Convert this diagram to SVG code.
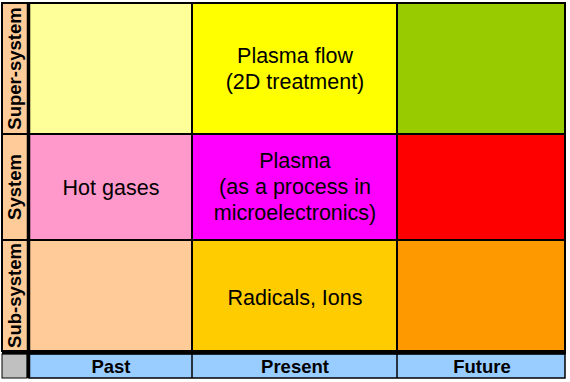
<svg xmlns="http://www.w3.org/2000/svg" width="570" height="382" viewBox="0 0 570 382">
<style>
.c{stroke:#000;stroke-width:2}
.t{font-family:"Liberation Sans",Arial,sans-serif;font-size:21.5px;fill:#000;text-anchor:middle}
.h{font-family:"Liberation Sans",Arial,sans-serif;font-size:18.5px;font-weight:bold;fill:#000;text-anchor:middle}
</style>
<rect width="570" height="382" fill="#fff"/>
<g id="row-labels">
<rect x="2" y="3" width="26" height="348" fill="#FFCC99" stroke="#000" stroke-width="2"/>
<line x1="2" y1="134" x2="28" y2="134" stroke="#000" stroke-width="2"/>
<line x1="2" y1="240" x2="28" y2="240" stroke="#000" stroke-width="2"/>
<text class="h" transform="translate(21,68.5) rotate(-90)">Super-system</text>
<text class="h" transform="translate(21,187) rotate(-90)">System</text>
<text class="h" transform="translate(21,295.5) rotate(-90)">Sub-system</text>
</g>
<g id="cell-super-past"><rect class="c" x="29" y="3" width="163" height="131" fill="#FFFF99"/></g>
<g id="cell-super-present"><rect class="c" x="192" y="3" width="205" height="131" fill="#FFFF00"/>
<text class="t" x="295" y="63">Plasma flow</text><text class="t" x="295" y="89">(2D treatment)</text></g>
<g id="cell-super-future"><rect class="c" x="397" y="3" width="168" height="131" fill="#99CC00"/></g>
<g id="cell-system-past"><rect class="c" x="29" y="134" width="163" height="106" fill="#FF99CC"/>
<text class="t" x="111" y="195">Hot gases</text></g>
<g id="cell-system-present"><rect class="c" x="192" y="134" width="205" height="106" fill="#FF00FF"/>
<text class="t" x="295" y="168">Plasma</text><text class="t" x="295" y="194">(as a process in</text><text class="t" x="295" y="220">microelectronics)</text></g>
<g id="cell-system-future"><rect class="c" x="397" y="134" width="168" height="106" fill="#FF0000"/></g>
<g id="cell-sub-past"><rect class="c" x="29" y="240" width="163" height="111" fill="#FFCC99"/></g>
<g id="cell-sub-present"><rect class="c" x="192" y="240" width="205" height="111" fill="#FFCC00"/>
<text class="t" x="295" y="305">Radicals, Ions</text></g>
<g id="cell-sub-future"><rect class="c" x="397" y="240" width="168" height="111" fill="#FF9900"/></g>
<g id="col-labels">
<rect x="2" y="354" width="25" height="24" fill="#C0C0C0" stroke="#000" stroke-width="1"/>
<rect x="29" y="354" width="536" height="24" fill="#99CCFF" stroke="#000" stroke-width="1.5"/>
<line x1="192" y1="354" x2="192" y2="378" stroke="#000" stroke-width="1.5"/>
<line x1="397" y1="354" x2="397" y2="378" stroke="#000" stroke-width="1.5"/>
<text class="h" x="111" y="373">Past</text>
<text class="h" x="295" y="373">Present</text>
<text class="h" x="482" y="373">Future</text>
</g>
<g id="frame-lines">
<line x1="28.5" y1="2" x2="28.5" y2="378" stroke="#000" stroke-width="3.5"/>
<line x1="2" y1="352.5" x2="566" y2="352.5" stroke="#000" stroke-width="3.5"/>
</g>
</svg>
